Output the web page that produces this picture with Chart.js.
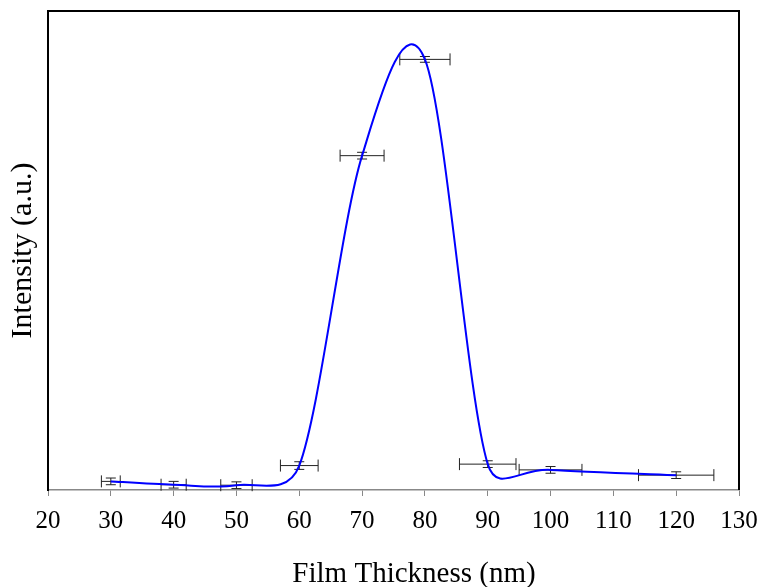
<!DOCTYPE html>
<html><head><meta charset="utf-8">
<script src="https://cdn.jsdelivr.net/npm/chart.js@4.4.1/dist/chart.umd.min.js"></script>
<style>html,body{margin:0;padding:0;background:#fff;}</style>
</head><body>
<canvas id="c" width="761" height="587" style="display:block;width:761px;height:587px"></canvas>
<script>
const thickness = [30, 40, 50, 60, 70, 80, 90, 100, 120];
const intensity = [1.8, 1.1, 1.0, 5.1, 69.8, 89.9, 5.4, 4.2, 3.1];
const thicknessErr = [1.5, 2, 2.5, 3, 3.5, 4, 4.5, 5, 6];
const intensityErr = [0.7, 0.7, 0.7, 0.8, 0.7, 0.6, 0.7, 0.7, 0.7];
const xTickValues = [20, 30, 40, 50, 60, 70, 80, 90, 100, 110, 120, 130];
const xTitle = 'Film Thickness (nm)';
const yTitle = 'Intensity (a.u.)';

const FONT = "'Liberation Serif', 'Times New Roman', serif";

// Spreadsheet-style smoothing: Catmull-Rom (1/6) control points,
// each limited to half of its segment's length, applied to Chart.js's own points.
const smoothLine = {
  id: 'smoothLine',
  beforeDatasetDraw(chart, args) {
    const line = args.meta.dataset;
    const pts = args.meta.data;
    line.updateControlPoints(chart.chartArea, 'x');
    const n = pts.length;
    for (let i = 0; i < n; i++) {
      const p = pts[i];
      const prev = pts[i - 1] || p;
      const next = pts[i + 1] || p;
      let vx = (next.x - prev.x) / 6, vy = (next.y - prev.y) / 6;
      const vl = Math.hypot(vx, vy);
      // outgoing
      let ox = vx, oy = vy;
      if (i < n - 1) {
        const d = Math.hypot(next.x - p.x, next.y - p.y) / 2;
        if (vl > d && vl > 0) { ox = vx * d / vl; oy = vy * d / vl; }
      }
      // incoming
      let ix = vx, iy = vy;
      if (i > 0) {
        const d = Math.hypot(p.x - prev.x, p.y - prev.y) / 2;
        if (vl > d && vl > 0) { ix = vx * d / vl; iy = vy * d / vl; }
      }
      p.cp1x = p.x - ix; p.cp1y = p.y - iy;
      p.cp2x = p.x + ox; p.cp2y = p.y + oy;
    }
  }
};

const errorBars = {
  id: 'errorBars',
  beforeDatasetsDraw(chart) {
    const ctx = chart.ctx, xs = chart.scales.x, ys = chart.scales.y;
    ctx.save();
    ctx.strokeStyle = '#222';
    ctx.lineWidth = 1;
    for (let i = 0; i < thickness.length; i++) {
      const px = xs.getPixelForValue(thickness[i]);
      const py = ys.getPixelForValue(intensity[i]);
      const x0 = xs.getPixelForValue(thickness[i] - thicknessErr[i]);
      const x1 = xs.getPixelForValue(thickness[i] + thicknessErr[i]);
      const y0 = ys.getPixelForValue(intensity[i] - intensityErr[i]);
      const y1 = ys.getPixelForValue(intensity[i] + intensityErr[i]);
      ctx.beginPath();
      ctx.moveTo(x0, py); ctx.lineTo(x1, py);
      ctx.moveTo(x0, py - 6); ctx.lineTo(x0, py + 6);
      ctx.moveTo(x1, py - 6); ctx.lineTo(x1, py + 6);
      ctx.moveTo(px, y0); ctx.lineTo(px, y1);
      ctx.moveTo(px - 5, y0); ctx.lineTo(px + 5, y0);
      ctx.moveTo(px - 5, y1); ctx.lineTo(px + 5, y1);
      ctx.stroke();
    }
    ctx.restore();
  },
  afterDraw(chart) {
    const ctx = chart.ctx, a = chart.chartArea;
    ctx.save();
    ctx.strokeStyle = '#000';
    ctx.lineWidth = 2;
    ctx.beginPath();
    ctx.moveTo(a.left - 1, a.top);
    ctx.lineTo(a.right, a.top);
    ctx.lineTo(a.right, a.bottom);
    ctx.stroke();
    ctx.fillStyle = '#000';
    ctx.font = "29px " + FONT;
    ctx.textAlign = 'center';
    ctx.textBaseline = 'middle';
    ctx.fillText(xTitle, 414, 574);
    ctx.restore();
  }
};

new Chart(document.getElementById('c'), {
  type: 'line',
  data: {
    datasets: [{
      data: thickness.map((x, i) => ({x, y: intensity[i]})),
      borderColor: '#0000ff',
      borderWidth: 2,
      pointRadius: 0,
      tension: 0.4,
      capBezierPoints: false,
      fill: false
    }]
  },
  options: {
    responsive: false,
    animation: false,
    devicePixelRatio: 1,
    layout: {padding: {left: 0, right: 22, top: 11, bottom: 0}},
    plugins: {legend: {display: false}, tooltip: {enabled: false}},
    scales: {
      x: {
        type: 'linear',
        min: 20, max: 130,
        afterBuildTicks(scale) { scale.ticks = xTickValues.map(v => ({value: v})); },
        afterFit(scale) { scale.height = 97; scale.paddingLeft = 0; scale.paddingRight = 0; },
        grid: {display: true, drawOnChartArea: false, drawTicks: true, tickLength: 6, color: '#888', lineWidth: 1},
        border: {display: true, color: '#888', width: 1.5},
        ticks: {font: {family: FONT, size: 25}, color: '#000', padding: 10.5, maxRotation: 0, autoSkip: false},
        title: {display: false}
      },
      y: {
        type: 'linear',
        min: 0, max: 100,
        afterFit(scale) { scale.width = 48; },
        grid: {display: false},
        border: {display: true, color: '#000', width: 2},
        ticks: {display: false},
        title: {display: true, text: yTitle, font: {family: FONT, size: 30}, color: '#000', padding: {top: 5.5, bottom: 0}}
      }
    }
  },
  plugins: [errorBars, smoothLine]
});
</script>
</body></html>
